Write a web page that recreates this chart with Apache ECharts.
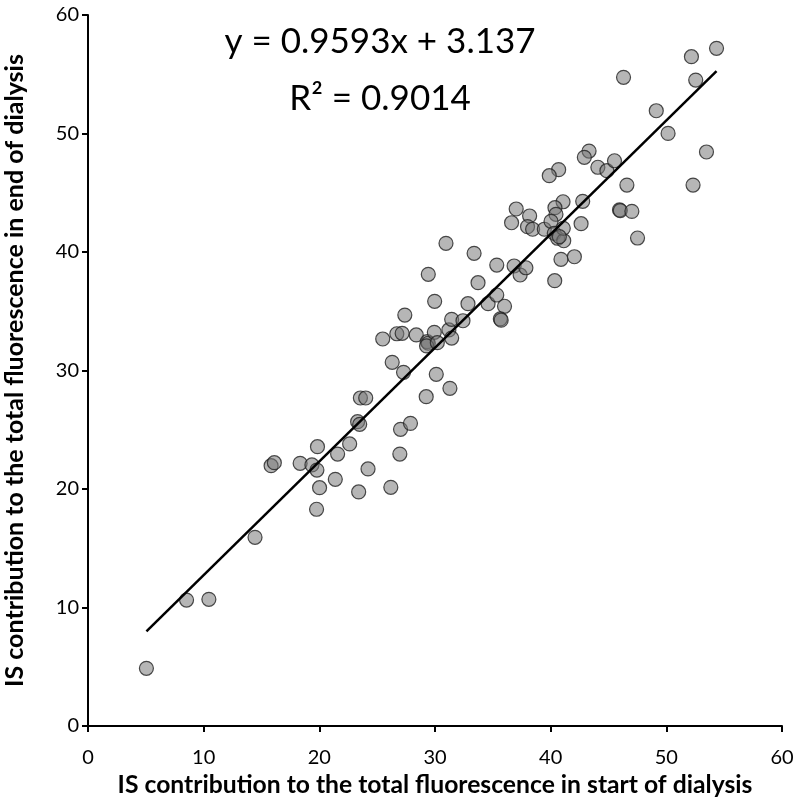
<!DOCTYPE html>
<html>
<head>
<meta charset="utf-8">
<script src="https://cdn.jsdelivr.net/npm/echarts@6/dist/echarts.min.js"></script>
<style>
html,body{margin:0;padding:0;background:#fff;}
#chart{width:800px;height:803px;}
</style>
</head>
<body>
<div id="chart"></div>
<script>
// Start-of-dialysis IS contribution (x) and end-of-dialysis (y)
const startValues = [5.05,8.52,10.45,14.44,15.83,16.11,18.34,19.36,19.84,19.79,20.02,19.76,21.58,21.38,22.62,23.4,24.21,23.31,23.49,26.96,26.18,27.02,27.88,23.55,24.01,29.24,31.29,30.11,27.28,26.3,25.48,26.7,27.16,27.39,28.38,29.33,29.42,29.27,29.94,30.2,31.2,31.44,31.44,32.42,29.97,29.42,30.95,32.85,33.38,33.72,34.59,35.34,35.34,36.01,35.65,35.72,36.84,37.36,37.86,37.02,36.62,38.18,38.0,38.44,54.34,52.17,52.54,46.3,49.13,50.15,53.47,52.31,43.32,42.91,44.08,44.86,45.52,40.69,39.88,46.59,45.95,46.02,47.02,47.51,42.77,42.63,42.05,40.89,40.35,41.07,40.37,40.46,39.45,40.03,40.31,40.6,41.13,41.09,40.75];
const endValues = [4.87,10.63,10.69,15.92,21.97,22.22,22.17,22.03,23.57,21.6,20.11,18.29,22.95,20.82,23.8,19.75,21.69,25.68,25.46,22.95,20.14,25.04,25.54,27.68,27.68,27.79,28.5,29.68,29.85,30.69,32.66,33.1,33.14,34.68,33.0,32.43,32.3,32.07,33.22,32.35,33.42,32.74,34.32,34.2,35.84,38.12,40.73,35.64,39.89,37.41,35.64,36.37,38.9,35.42,34.35,34.25,38.82,38.06,38.67,43.63,42.47,43.04,42.14,41.92,57.19,56.48,54.51,54.74,51.92,50.01,48.44,45.65,48.52,47.99,47.15,46.86,47.7,46.95,46.44,45.65,43.55,43.5,43.43,41.18,44.28,42.39,39.6,39.38,37.58,44.24,43.74,43.18,41.92,42.59,41.58,41.16,40.95,42.0,41.29];
const axisTicks = [0,10,20,30,40,50,60];
const trendSlope = [0.9593];
const trendIntercept = [3.137];
const rSquared = ['0.9014'];

const points = startValues.map((x,i)=>[x,endValues[i]]);
const xMin = Math.min(...startValues), xMax = Math.max(...startValues);
const trend = [[xMin, trendSlope[0]*xMin + trendIntercept[0]],[xMax, trendSlope[0]*xMax + trendIntercept[0]]];

const FONT = 'Lato';
const chart = echarts.init(document.getElementById('chart'));
chart.setOption({
  animation:false,
  backgroundColor:'#fff',
  grid:{left:88,right:18,top:15,bottom:77,containLabel:false,outerBoundsMode:'none'},
  xAxis:{
    type:'value',min:axisTicks[0],max:axisTicks[axisTicks.length-1],interval:10,
    name:'IS contribution to the total fluorescence in start of dialysis',
    nameLocation:'middle',nameGap:46,
    nameTextStyle:{fontFamily:FONT,fontWeight:'bold',fontSize:24.7,color:'#000'},
    axisLine:{onZero:false,lineStyle:{color:'#000',width:2}},
    axisTick:{show:true,length:6,lineStyle:{color:'#000',width:2}},
    axisLabel:{fontFamily:FONT,fontSize:20,color:'#000',margin:22},
    splitLine:{show:false}
  },
  yAxis:{
    type:'value',min:axisTicks[0],max:axisTicks[axisTicks.length-1],interval:10,
    name:'IS contribution to the total fluorescence in end of dialysis',
    nameLocation:'middle',nameGap:61,
    nameTextStyle:{fontFamily:FONT,fontWeight:'bold',fontSize:25,color:'#000'},
    axisLine:{show:true,onZero:false,lineStyle:{color:'#000',width:2}},
    axisTick:{show:true,length:6,lineStyle:{color:'#000',width:2}},
    axisLabel:{fontFamily:FONT,fontSize:20,color:'#000',margin:9},
    splitLine:{show:false}
  },
  series:[
    {
      type:'scatter',data:points,symbol:'circle',symbolSize:14,
      itemStyle:{color:'rgba(120,120,120,0.68)',borderColor:'#222',borderWidth:1.2},
      z:3
    },
    {
      type:'line',data:trend,symbol:'none',
      lineStyle:{color:'#000',width:2.5},z:4
    }
  ],
  graphic:[
    {type:'text',x:380,y:42,style:{text:'y = '+trendSlope[0]+'x + '+trendIntercept[0],fontFamily:FONT,fontSize:35,fill:'#000',align:'center',verticalAlign:'middle'}},
    {type:'text',x:380,y:99,style:{text:'R² = '+rSquared[0],fontFamily:FONT,fontSize:35,fill:'#000',align:'center',verticalAlign:'middle'}}
  ]
});
</script>
</body>
</html>
